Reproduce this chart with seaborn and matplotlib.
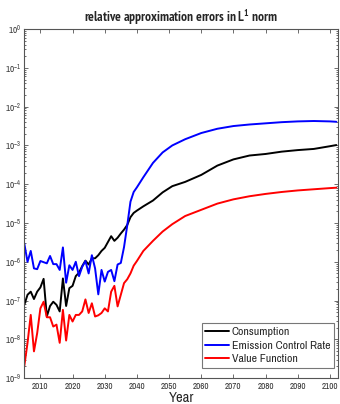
import numpy as np
import pandas as pd
import matplotlib
matplotlib.use("Agg")
import matplotlib.pyplot as plt
from matplotlib import font_manager as fm
from matplotlib.ticker import LogLocator, NullLocator
import seaborn as sns

# Years: annual through 2040, sparser where the curves are smooth
years = list(range(2005, 2041)) + [2042, 2045, 2048, 2051, 2055, 2060, 2065,
                                    2070, 2075, 2080, 2085, 2090, 2095, 2100, 2102]

# log10 of the relative L1 errors
log10_consumption = [
    -7.11, -6.85, -6.77, -6.96, -6.77, -6.66, -6.44, -7.41, -7.14, -7.03,
    -7.11, -7.28, -6.43, -7.14, -6.68, -6.62, -6.37, -6.28, -6.11, -5.97,
    -6.07, -5.91, -5.91, -5.83, -5.72, -5.64, -5.49, -5.34, -5.46, -5.38,
    -5.27, -5.17, -5.05, -4.85, -4.74, -4.68,
    -4.57, -4.42, -4.21, -4.05, -3.94, -3.76, -3.52, -3.36, -3.26, -3.22,
    -3.16, -3.12, -3.09, -3.02, -2.99,
]
log10_emission = [
    -5.53, -6.00, -5.72, -6.17, -6.19, -5.98, -6.01, -6.04, -5.85, -6.06,
    -6.06, -6.21, -5.63, -6.54, -6.09, -6.21, -6.00, -6.37, -6.13, -5.98,
    -6.30, -5.83, -6.17, -6.84, -6.21, -6.51, -6.26, -6.21, -6.50, -6.07,
    -6.03, -5.62, -5.06, -4.45, -4.20, -4.08,
    -3.82, -3.45, -3.18, -3.00, -2.84, -2.68, -2.57, -2.50, -2.46, -2.43,
    -2.40, -2.38, -2.37, -2.38, -2.39,
]
log10_value_fn = [
    -8.69, -8.09, -7.37, -8.31, -7.84, -7.20, -7.03, -7.43, -7.43, -7.67,
    -7.62, -8.09, -7.24, -8.03, -7.37, -7.54, -7.37, -7.37, -7.28, -6.97,
    -7.32, -7.07, -7.41, -7.38, -7.32, -7.20, -7.28, -6.77, -6.62, -7.15,
    -6.85, -6.55, -6.45, -6.30, -6.10, -5.98,
    -5.72, -5.46, -5.22, -5.03, -4.82, -4.66, -4.50, -4.39, -4.31, -4.25,
    -4.20, -4.16, -4.13, -4.10, -4.09,
]

series_names = ["Consumption", "Emission Control Rate", "Value Function"]
series_colors = ["#000000", "#0000ff", "#ff0000"]
x_ticks = list(range(2010, 2101, 10))

frames = []
for name, vals in zip(series_names, [log10_consumption, log10_emission, log10_value_fn]):
    frames.append(pd.DataFrame({"Year": years, "error": np.power(10.0, vals), "series": name}))
df = pd.concat(frames, ignore_index=True)

# narrow Helvetica-like faces, in order of preference
preferred = ["Liberation Sans Narrow", "Arial Narrow", "Nimbus Sans Narrow",
             "Archivo Narrow", "PT Sans Narrow", "Roboto Condensed",
             "Fira Sans Condensed", "DejaVu Sans"]
fonts = fm.fontManager.ttflist
installed = {f.name for f in fonts}
bold_faces = {f.name for f in fonts if f.weight in (600, 700, 800, "bold", "semibold")}
face = next(n for n in preferred if n in installed)
title_face = next(n for n in preferred if n in bold_faces)

sns.set_style("ticks")
plt.rcParams["font.family"] = [face, "DejaVu Sans"]
plt.rcParams["mathtext.fontset"] = "custom"
plt.rcParams["mathtext.rm"] = face
plt.rcParams["mathtext.it"] = face
plt.rcParams["mathtext.bf"] = f"{title_face}:bold"

fig = plt.figure(figsize=(3.4, 4.04), dpi=100)
ax = fig.add_axes([0.0715, 0.064, 0.9225, 0.864])

sns.lineplot(data=df, x="Year", y="error", hue="series", hue_order=series_names,
             palette=dict(zip(series_names, series_colors)), linewidth=1.4,
             ax=ax, legend=True)

ax.set_yscale("log")
ax.set_ylim(1e-9, 1)
ax.set_xlim(2005, 2102.5)
ax.set_xticks(x_ticks)
ax.yaxis.set_major_locator(LogLocator(base=10, numticks=12))
ax.yaxis.set_minor_locator(LogLocator(base=10, subs=np.arange(2, 10), numticks=12))
ax.xaxis.set_minor_locator(NullLocator())

ax.tick_params(which="both", direction="in", top=True, right=True, colors="#555555",
               labelcolor="#333333", width=0.6)
ax.tick_params(which="major", length=3, labelsize=6.5, pad=2.5)
ax.tick_params(which="minor", length=1.5)
for s in ax.spines.values():
    s.set_color("#555555")
    s.set_linewidth(0.8)

ax.set_xlabel("Year", fontsize=10.5, labelpad=0)
ax.set_ylabel("")
ax.set_title(r"relative approximation errors in L$^{\mathbf{1}}$ norm",
             fontsize=9.6, fontweight="bold", family=[title_face, "DejaVu Sans"], pad=5)

leg = ax.legend(loc="lower right", bbox_to_anchor=(0.987, 0.029), borderaxespad=0,
                fontsize=8.5, frameon=True, fancybox=False,
                handlelength=2.0, handletextpad=0.25, borderpad=0.3, labelspacing=0.3)
leg.get_frame().set_edgecolor("#555555")
leg.get_frame().set_linewidth(0.8)
for h in leg.get_lines():
    h.set_linewidth(1.4)

fig.savefig("out.png", dpi=100)
